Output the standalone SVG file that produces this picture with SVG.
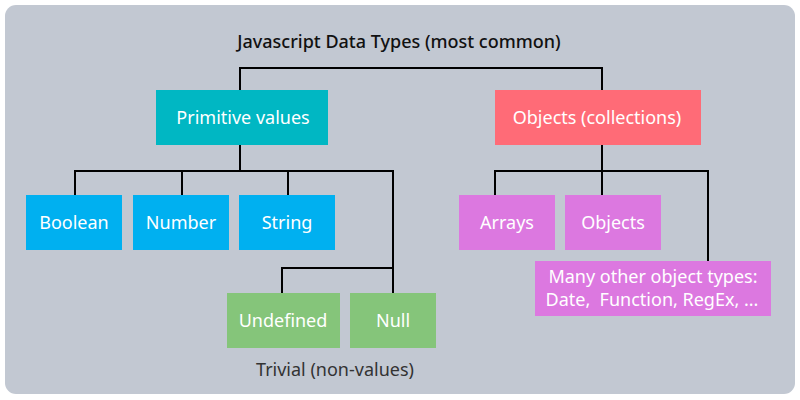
<svg xmlns="http://www.w3.org/2000/svg" width="800" height="400" viewBox="0 0 800 400">
<style>
.t{font-family:"Noto Sans","Liberation Sans",sans-serif;font-size:18px;fill:#ffffff;text-anchor:middle}
.c{fill:none;stroke:#000;stroke-width:2}
.prim{fill:#00b7c3}
.obj{fill:#ff6b77}
.blue{fill:#00b0f0}
.green{fill:#85c57a}
.pink{fill:#dc78e0}
</style>
<rect x="5" y="5" width="790" height="389" rx="11" fill="#c2c8d2"/>
<text x="399" y="48" class="t" style="fill:#111;font-weight:500">Javascript Data Types (most common)</text>
<g id="connectors">
<path class="c" d="M240 90V68H602V90"/>
<path class="c" d="M240 145V171M75 195V171H393V293M182 171V195M288 171V195"/>
<path class="c" d="M282 293V268H393"/>
<path class="c" d="M602 145V195M495 195V171H708V261"/>
</g>
<g id="primitive"><rect class="prim" x="156" y="90" width="172" height="55"/><text class="t" x="243" y="124">Primitive values</text></g>
<g id="objects-collections"><rect class="obj" x="495" y="90" width="206" height="55"/><text class="t" x="597" y="124">Objects (collections)</text></g>
<g id="boolean"><rect class="blue" x="26" y="195" width="96" height="55"/><text class="t" x="74" y="229">Boolean</text></g>
<g id="number"><rect class="blue" x="133" y="195" width="96" height="55"/><text class="t" x="181" y="229">Number</text></g>
<g id="string"><rect class="blue" x="239" y="195" width="96" height="55"/><text class="t" x="287" y="229">String</text></g>
<g id="undefined"><rect class="green" x="227" y="293" width="113" height="55"/><text class="t" x="283" y="327">Undefined</text></g>
<g id="null"><rect class="green" x="350" y="293" width="86" height="55"/><text class="t" x="393" y="327">Null</text></g>
<text class="t" x="335" y="376" style="fill:#333">Trivial (non-values)</text>
<g id="arrays"><rect class="pink" x="459" y="195" width="96" height="55"/><text class="t" x="507" y="229">Arrays</text></g>
<g id="objects"><rect class="pink" x="565" y="195" width="96" height="55"/><text class="t" x="613" y="229">Objects</text></g>
<g id="other"><rect class="pink" x="535" y="261" width="236" height="55"/><text class="t" x="653" y="283">Many other object types:</text><text class="t" x="652" y="306" style="white-space:pre">Date,  Function, RegEx, ...</text></g>
</svg>
